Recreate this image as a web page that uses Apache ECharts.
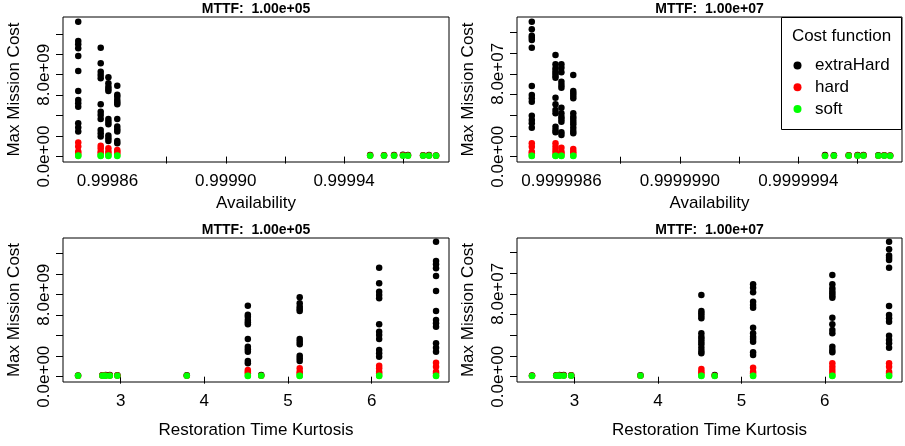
<!DOCTYPE html>
<html>
<head>
<meta charset="utf-8">
<script src="https://cdn.jsdelivr.net/npm/echarts@6/dist/echarts.min.js"></script>
<style>
  html, body { margin: 0; padding: 0; background: #ffffff; }
  #chart { width: 905px; height: 446px; }
</style>
</head>
<body>
<div id="chart"></div>
<script>
// ---- data -------------------------------------------------------------
const costFunctions = ['extraHard', 'hard', 'soft'];
const costColors = ['#000000', '#ff0000', '#00ff00'];

// Restoration-time distributions: their kurtosis and the resulting availability
const kurtosis = [4.52, 5.14, 6.09, 6.77, 4.68, 3.79, 2.96, 2.87, 2.82, 2.80, 2.78, 2.49];
const availabilityMttf1e5 = [0.9998633, 0.9998603, 0.9998577, 0.9998501,
  0.9999488, 0.9999535, 0.9999569, 0.9999599, 0.9999616, 0.9999667, 0.9999687, 0.9999711];
const availabilityMttf1e7 = [0.99999864, 0.99999860, 0.99999858, 0.99999850,
  0.99999949, 0.99999952, 0.99999957, 0.99999960, 0.99999962, 0.99999967, 0.99999969, 0.99999971];

// Max mission cost per distribution (one list per distribution), MTTF 1.00e+05
const extraHardMttf1e5 = [
  [6.93e9, 6.05e9, 5.85e9, 5.53e9, 5.31e9, 5.11e9, 3.68e9, 2.93e9, 2.67e9, 2.44e9, 1.53e9, 1.31e9],
  [7.75e9, 7.16e9, 6.83e9, 6.60e9, 6.41e9, 3.68e9, 3.41e9, 3.16e9, 2.05e9, 1.79e9, 1.53e9],
  [10.63e9, 9.11e9, 8.29e9, 7.97e9, 7.65e9, 5.11e9, 4.39e9, 4.07e9, 3.68e9, 2.60e9, 2.28e9, 1.95e9],
  [13.17e9, 11.29e9, 10.97e9, 10.58e9, 9.82e9, 8.36e9, 6.41e9, 5.53e9, 5.21e9, 4.88e9, 3.26e9, 2.83e9, 2.44e9],
  [0.16e9], [0.14e9], [0.15e9], [0.17e9], [0.16e9], [0.13e9], [0.15e9], [0.11e9]
];
const hardMttf1e5 = [
  [0.65e9, 0.49e9, 0.33e9],
  [0.82e9, 0.49e9, 0.30e9],
  [1.07e9, 0.82e9, 0.49e9, 0.30e9],
  [1.37e9, 0.98e9, 0.49e9, 0.30e9],
  [0.10e9], [0.10e9], [0.11e9], [0.12e9], [0.11e9], [0.10e9], [0.11e9], [0.09e9]
];
const softMttf1e5 = [
  [0.10e9, 0.06e9], [0.10e9, 0.06e9], [0.10e9, 0.06e9], [0.10e9, 0.06e9],
  [0.08e9], [0.09e9], [0.09e9], [0.09e9], [0.09e9], [0.09e9], [0.09e9], [0.08e9]
];

// Max mission cost per distribution, MTTF 1.00e+07
const extraHardMttf1e7 = [
  [7.88e7, 6.34e7, 6.12e7, 5.89e7, 5.64e7, 4.19e7, 3.86e7, 3.64e7, 3.38e7, 3.13e7, 2.80e7, 2.48e7, 2.26e7],
  [8.92e7, 8.59e7, 8.14e7, 7.24e7, 6.92e7, 6.66e7, 4.73e7, 4.19e7, 3.86e7, 3.64e7, 3.38e7, 2.35e7, 2.09e7],
  [9.81e7, 8.92e7, 8.53e7, 8.27e7, 8.05e7, 7.82e7, 7.62e7, 5.69e7, 5.06e7, 4.51e7, 4.19e7, 2.90e7, 2.58e7, 2.35e7],
  [13.03e7, 12.29e7, 11.68e7, 11.48e7, 11.26e7, 10.52e7, 6.82e7, 5.95e7, 5.64e7, 5.31e7, 3.96e7, 3.54e7, 3.22e7, 2.80e7],
  [0.16e7], [0.14e7], [0.15e7], [0.17e7], [0.16e7], [0.13e7], [0.15e7], [0.11e7]
];
const hardMttf1e7 = [
  [0.74e7, 0.48e7, 0.30e7],
  [0.87e7, 0.48e7, 0.30e7],
  [1.29e7, 0.97e7, 0.65e7, 0.35e7],
  [1.29e7, 0.97e7, 0.48e7, 0.30e7],
  [0.10e7], [0.10e7], [0.11e7], [0.12e7], [0.11e7], [0.10e7], [0.11e7], [0.09e7]
];
const softMttf1e7 = [
  [0.10e7, 0.06e7], [0.10e7, 0.06e7], [0.10e7, 0.06e7], [0.10e7, 0.06e7],
  [0.08e7], [0.09e7], [0.09e7], [0.09e7], [0.09e7], [0.09e7], [0.09e7], [0.08e7]
];

// Axis ticks and labelled positions
const costTicks1e5 = [0, 2e9, 4e9, 6e9, 8e9, 10e9, 12e9];
const costLabels1e5 = [0, 8e9];
const costTicks1e7 = [0, 2e7, 4e7, 6e7, 8e7, 10e7, 12e7];
const costLabels1e7 = [0, 8e7];
const availTicks1e5 = [0.99988, 0.99990, 0.99992, 0.99994, 0.99996];
const availLabels1e5 = [0.99986, 0.99990, 0.99994];
const availTicks1e7 = [0.9999988, 0.9999990, 0.9999992, 0.9999994, 0.9999996];
const availLabels1e7 = [0.9999986, 0.9999990, 0.9999994];
const kurtosisTicks = [3, 4, 5, 6];

// ---- chart ------------------------------------------------------------
const FONT = '"Liberation Sans", Arial, sans-serif';

function sci(v) {
  const parts = Number(v).toExponential(1).split('e');
  const exp = parts[1];
  const sign = exp[0] === '-' ? '-' : '+';
  return parts[0] + 'e' + sign + exp.replace(/^[+-]/, '').padStart(2, '0');
}

const panels = [
  { grid: { left: 63, top: 17, width: 386, height: 145 },
    x: availabilityMttf1e5, xMin: 0.99984495, xMax: 0.99997547,
    xTicks: availTicks1e5, xLabels: availLabels1e5, xFmt: v => Number(v).toFixed(5),
    xName: 'Availability', xGap: 33,
    costs: [extraHardMttf1e5, hardMttf1e5, softMttf1e5],
    yMin: -0.53e9, yMax: 13.64e9, yTicks: costTicks1e5, yLabels: costLabels1e5,
    title: 'MTTF:  1.00e+05' },
  { grid: { left: 517, top: 17, width: 385, height: 145 },
    x: availabilityMttf1e7, xMin: 0.99999845, xMax: 0.99999975,
    xTicks: availTicks1e7, xLabels: availLabels1e7, xFmt: v => Number(v).toFixed(7),
    xName: 'Availability', xGap: 33,
    costs: [extraHardMttf1e7, hardMttf1e7, softMttf1e7],
    yMin: -0.51e7, yMax: 13.48e7, yTicks: costTicks1e7, yLabels: costLabels1e7,
    title: 'MTTF:  1.00e+07' },
  { grid: { left: 63, top: 238, width: 386, height: 144 },
    x: kurtosis, xMin: 2.31, xMax: 6.925,
    xTicks: kurtosisTicks, xLabels: kurtosisTicks, xFmt: v => String(v),
    xName: 'Restoration Time Kurtosis', xGap: 40,
    costs: [extraHardMttf1e5, hardMttf1e5, softMttf1e5],
    yMin: -0.52e9, yMax: 13.53e9, yTicks: costTicks1e5, yLabels: costLabels1e5,
    title: 'MTTF:  1.00e+05' },
  { grid: { left: 517, top: 238, width: 385, height: 144 },
    x: kurtosis, xMin: 2.31, xMax: 6.925,
    xTicks: kurtosisTicks, xLabels: kurtosisTicks, xFmt: v => String(v),
    xName: 'Restoration Time Kurtosis', xGap: 40,
    costs: [extraHardMttf1e7, hardMttf1e7, softMttf1e7],
    yMin: -0.51e7, yMax: 13.38e7, yTicks: costTicks1e7, yLabels: costLabels1e7,
    title: 'MTTF:  1.00e+07' }
];

const textBase = { color: '#000000', fontFamily: FONT, fontSize: 17, lineHeight: 17 };

const grids = [], xAxes = [], yAxes = [], series = [], graphics = [];

panels.forEach((p, i) => {
  grids.push(Object.assign({ show: true, borderColor: '#000000', borderWidth: 1,
    backgroundColor: 'transparent', containLabel: false, outerBoundsMode: 'none' }, p.grid));

  xAxes.push({
    type: 'value', gridIndex: i, min: p.xMin, max: p.xMax, scale: true,
    axisLine: { show: false },
    splitLine: { show: false },
    axisTick: { show: true, length: 7, customValues: p.xTicks,
      lineStyle: { color: '#000000', width: 1 } },
    axisLabel: Object.assign({ customValues: p.xLabels, margin: 11, formatter: p.xFmt,
      showMinLabel: true, showMaxLabel: true, hideOverlap: false }, textBase),
    name: p.xName, nameLocation: 'middle', nameGap: p.xGap,
    nameTextStyle: Object.assign({}, textBase)
  });

  yAxes.push({
    type: 'value', gridIndex: i, min: p.yMin, max: p.yMax, scale: true,
    axisLine: { show: false },
    splitLine: { show: false },
    axisTick: { show: true, length: 7, customValues: p.yTicks,
      lineStyle: { color: '#000000', width: 1 } },
    axisLabel: Object.assign({ customValues: p.yLabels, margin: 10, rotate: 90,
      formatter: sci, showMinLabel: true, showMaxLabel: true, hideOverlap: false }, textBase),
    name: 'Max Mission Cost', nameLocation: 'middle', nameGap: 40, nameRotate: 90,
    nameTextStyle: Object.assign({}, textBase)
  });

  costFunctions.forEach((cf, c) => {
    const data = [];
    p.costs[c].forEach((vals, d) => {
      vals.forEach(v => data.push([p.x[d], v]));
    });
    series.push({
      name: cf, type: 'scatter', xAxisIndex: i, yAxisIndex: i,
      symbol: 'circle', symbolSize: 6.5,
      itemStyle: { color: costColors[c], opacity: 1 },
      emphasis: { disabled: true },
      silent: true, animation: false,
      data: data
    });
  });

  graphics.push({
    type: 'text', x: p.grid.left + p.grid.width / 2, y: p.grid.top - 7.5,
    style: { text: p.title, fill: '#000000', font: 'bold 14px ' + FONT,
      textAlign: 'center', textVerticalAlign: 'middle' }
  });
});

// Legend frame and heading inside the top-right panel
graphics.push({
  type: 'rect', z: 5,
  shape: { x: 781.5, y: 17.5, width: 120, height: 112 },
  style: { fill: '#ffffff', stroke: '#000000', lineWidth: 1 }
});
graphics.push({
  type: 'text', z: 6, x: 841.5, y: 36,
  style: { text: 'Cost function', fill: '#000000', font: '17px ' + FONT,
    textAlign: 'center', textVerticalAlign: 'middle' }
});

const chart = echarts.init(document.getElementById('chart'), null, { renderer: 'canvas' });
chart.setOption({
  animation: false,
  backgroundColor: '#ffffff',
  grid: grids,
  xAxis: xAxes,
  yAxis: yAxes,
  series: series,
  graphic: graphics,
  legend: {
    data: costFunctions, orient: 'vertical', left: 793.5, top: 57, padding: 0,
    itemWidth: 25, itemHeight: 8, itemGap: 4.7, icon: 'circle',
    selectedMode: false, z: 10,
    textStyle: Object.assign({}, textBase)
  },
  tooltip: { show: false }
});
</script>
</body>
</html>
